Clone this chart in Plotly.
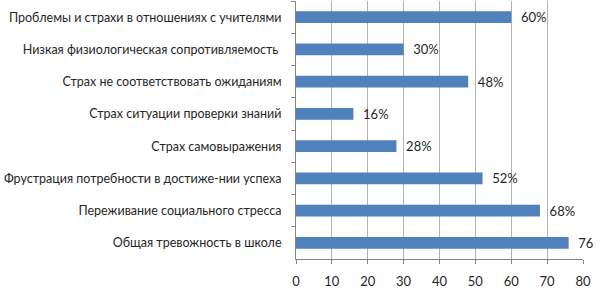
import plotly.graph_objects as go

categories = [
    "Проблемы и страхи в отношениях с учителями",
    "Низкая физиологическая сопротивляемость ",
    "Страх не соответствовать ожиданиям",
    "Страх ситуации проверки знаний",
    "Страх самовыражения",
    "Фрустрация потребности в достиже-нии успеха",
    "Переживание социального стресса",
    "Общая тревожность в школе",
]
values = [60, 30, 48, 16, 28, 52, 68, 76]
bar_labels = ["60%", "30%", "48%", "16%", "28%", "52%", "68%", "76"]
x_ticks = [0, 10, 20, 30, 40, 50, 60, 70, 80]

font_family = "Lato, 'Open Sans', sans-serif"
fsize = 12.5

fig = go.Figure(
    go.Bar(
        x=values,
        y=categories,
        orientation="h",
        text=bar_labels,
        texttemplate="  %{text}",
        textposition="outside",
        constraintext="none",
        cliponaxis=False,
        textfont=dict(family=font_family, size=13, color="#262626"),
        marker=dict(color="#4F81BD", line=dict(width=0)),
        hoverinfo="skip",
    )
)

fig.update_layout(
    width=601,
    height=289,
    margin=dict(l=296, r=18, t=1, b=30, autoexpand=False),
    paper_bgcolor="white",
    plot_bgcolor="white",
    showlegend=False,
    bargap=0.63,
    font=dict(family=font_family, size=fsize, color="#262626"),
)

fig.update_xaxes(
    range=[0, 80],
    tickvals=x_ticks,
    automargin=False,
    showgrid=True,
    gridcolor="#B3B3B3",
    gridwidth=1,
    showline=True,
    linecolor="#868686",
    ticks="outside",
    ticklen=4,
    tickcolor="#868686",
    ticklabelstandoff=6,
    zeroline=False,
    tickfont=dict(family=font_family, size=13, color="#262626"),
)

fig.update_yaxes(
    autorange="reversed",
    automargin=False,
    showline=True,
    linecolor="#868686",
    ticks="outside",
    tickson="boundaries",
    ticklen=4,
    tickcolor="#868686",
    ticklabelstandoff=11,
    showgrid=False,
    tickfont=dict(family=font_family, size=fsize, color="#262626"),
)

fig.write_html(
    "out.html",
    config={"displayModeBar": False},
    post_script="document.body.style.margin='0';document.body.style.overflow='hidden';",
)
